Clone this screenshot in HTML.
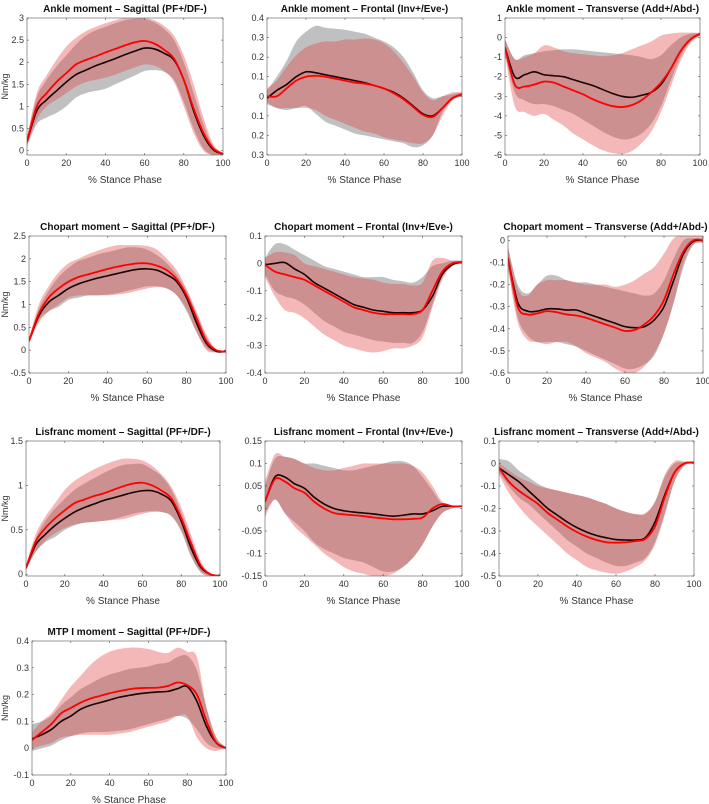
<!DOCTYPE html>
<html><head><meta charset="utf-8">
<style>
html,body{margin:0;padding:0;background:#fff;}
svg{display:block;font-family:"Liberation Sans",sans-serif;}
.t{font-weight:bold;font-size:10px;fill:#111;}
.tk{font-size:9px;fill:#333;}
.xl{font-size:10px;fill:#333;}
</style></head>
<body>
<svg id="fig" width="709" height="804" viewBox="0 0 709 804"></svg>
<script>
const xs=[0,5,10,15,20,25,30,35,40,45,50,55,60,65,70,75,80,85,90,95,100];
const titles=["Ankle moment – Sagittal (PF+/DF-)","Ankle moment – Frontal (Inv+/Eve-)","Ankle moment – Transverse (Add+/Abd-)","Chopart moment – Sagittal (PF+/DF-)","Chopart moment – Frontal (Inv+/Eve-)","Chopart moment – Transverse (Add+/Abd-)","Lisfranc moment – Sagittal (PF+/DF-)","Lisfranc moment – Frontal (Inv+/Eve-)","Lisfranc moment – Transverse (Add+/Abd-)","MTP I moment – Sagittal (PF+/DF-)"];
const blackMean=[
[0.2,0.9,1.15,1.35,1.55,1.72,1.82,1.92,2.0,2.08,2.17,2.25,2.32,2.3,2.2,2.05,1.6,0.9,0.35,0.02,-0.08],
[-0.01,0.03,0.06,0.1,0.125,0.12,0.11,0.1,0.09,0.08,0.07,0.055,0.04,0.02,-0.01,-0.05,-0.09,-0.1,-0.06,-0.01,0.01],
[-0.5,-2.0,-1.9,-1.75,-1.9,-1.95,-2.0,-2.15,-2.3,-2.45,-2.65,-2.85,-3.0,-3.05,-2.95,-2.8,-2.4,-1.6,-0.7,-0.1,0.2],
[0.2,0.75,1.05,1.2,1.35,1.45,1.52,1.58,1.63,1.68,1.73,1.77,1.78,1.75,1.65,1.5,1.15,0.6,0.15,-0.02,-0.03],
[-0.005,0.0,0.003,-0.02,-0.04,-0.07,-0.09,-0.11,-0.13,-0.15,-0.16,-0.17,-0.175,-0.18,-0.18,-0.18,-0.17,-0.12,-0.04,-0.005,0.005],
[-0.08,-0.28,-0.32,-0.32,-0.31,-0.31,-0.315,-0.315,-0.33,-0.345,-0.36,-0.375,-0.39,-0.395,-0.39,-0.36,-0.3,-0.18,-0.06,-0.005,0.0],
[0.07,0.33,0.45,0.55,0.63,0.7,0.75,0.79,0.83,0.86,0.89,0.92,0.94,0.94,0.9,0.82,0.6,0.3,0.08,0.0,-0.02],
[0.015,0.07,0.07,0.055,0.045,0.025,0.01,0.0,-0.005,-0.008,-0.01,-0.012,-0.015,-0.017,-0.015,-0.012,-0.012,-0.005,0.005,0.005,0.005],
[-0.02,-0.05,-0.08,-0.12,-0.16,-0.2,-0.23,-0.26,-0.285,-0.305,-0.32,-0.33,-0.338,-0.34,-0.34,-0.33,-0.26,-0.14,-0.04,0.0,0.005],
[0.035,0.05,0.07,0.1,0.12,0.145,0.16,0.17,0.18,0.19,0.197,0.203,0.207,0.21,0.212,0.222,0.23,0.175,0.08,0.02,0.0]];
const redMean=[
[0.2,1.0,1.3,1.55,1.75,1.95,2.05,2.13,2.22,2.3,2.38,2.45,2.48,2.42,2.28,2.08,1.6,0.95,0.4,0.05,-0.08],
[0.0,0.0,0.04,0.08,0.1,0.105,0.1,0.09,0.08,0.07,0.065,0.055,0.04,0.015,-0.015,-0.055,-0.095,-0.105,-0.06,-0.01,0.01],
[-0.5,-2.4,-2.5,-2.4,-2.25,-2.3,-2.5,-2.7,-2.9,-3.15,-3.35,-3.5,-3.55,-3.45,-3.2,-2.8,-2.3,-1.6,-0.7,-0.1,0.2],
[0.2,0.8,1.15,1.35,1.5,1.6,1.66,1.72,1.78,1.83,1.87,1.9,1.9,1.85,1.75,1.55,1.2,0.7,0.2,0.0,-0.03],
[-0.005,-0.03,-0.04,-0.05,-0.06,-0.08,-0.1,-0.12,-0.14,-0.16,-0.17,-0.18,-0.185,-0.185,-0.185,-0.185,-0.17,-0.1,-0.03,0.0,0.005],
[-0.08,-0.3,-0.335,-0.33,-0.32,-0.325,-0.335,-0.34,-0.35,-0.365,-0.38,-0.395,-0.41,-0.405,-0.38,-0.34,-0.27,-0.15,-0.05,0.0,0.0],
[0.07,0.37,0.52,0.63,0.72,0.8,0.84,0.88,0.91,0.95,0.99,1.02,1.03,1.0,0.94,0.85,0.63,0.35,0.1,0.0,-0.02],
[0.015,0.065,0.06,0.045,0.035,0.015,0.0,-0.01,-0.013,-0.015,-0.017,-0.02,-0.022,-0.024,-0.024,-0.023,-0.02,0.0,0.01,0.005,0.005],
[-0.02,-0.08,-0.12,-0.15,-0.18,-0.22,-0.25,-0.28,-0.305,-0.325,-0.34,-0.35,-0.352,-0.35,-0.345,-0.335,-0.28,-0.15,-0.04,0.0,0.005],
[0.03,0.06,0.09,0.13,0.15,0.17,0.185,0.195,0.205,0.213,0.22,0.224,0.225,0.226,0.232,0.245,0.235,0.2,0.1,0.02,0.0]];
const grayHi=[
[0.3,1.2,1.6,1.9,2.15,2.4,2.6,2.72,2.8,2.88,2.95,2.98,2.98,2.9,2.75,2.5,2.0,1.3,0.6,0.1,-0.05],
[0.03,0.1,0.18,0.28,0.33,0.36,0.35,0.345,0.34,0.33,0.32,0.3,0.28,0.25,0.2,0.12,0.03,-0.01,0.0,0.01,0.02],
[-0.1,-1.1,-0.9,-0.8,-0.7,-0.65,-0.6,-0.6,-0.65,-0.7,-0.75,-0.8,-0.85,-0.9,-1.0,-1.1,-0.9,-0.4,0.0,0.2,0.2],
[0.25,0.9,1.3,1.6,1.8,1.95,2.02,2.1,2.15,2.2,2.25,2.25,2.2,2.08,1.9,1.65,1.3,0.8,0.3,0.0,-0.03],
[0.02,0.07,0.07,0.05,0.03,0.01,-0.01,-0.02,-0.03,-0.04,-0.05,-0.05,-0.05,-0.06,-0.065,-0.07,-0.05,-0.01,0.0,0.01,0.01],
[-0.03,-0.2,-0.24,-0.2,-0.16,-0.16,-0.18,-0.19,-0.19,-0.2,-0.21,-0.22,-0.23,-0.24,-0.25,-0.24,-0.18,-0.08,0.0,0.01,0.01],
[0.1,0.4,0.6,0.74,0.85,0.95,1.02,1.08,1.14,1.19,1.23,1.24,1.24,1.18,1.1,0.95,0.7,0.4,0.12,0.01,-0.01],
[0.05,0.11,0.115,0.11,0.1,0.1,0.095,0.09,0.085,0.085,0.09,0.095,0.1,0.105,0.105,0.095,0.07,0.04,0.01,0.005,0.005],
[0.02,0.01,-0.03,-0.06,-0.09,-0.11,-0.12,-0.13,-0.14,-0.15,-0.165,-0.18,-0.2,-0.215,-0.225,-0.225,-0.17,-0.06,0.0,0.005,0.005],
[0.09,0.1,0.12,0.16,0.19,0.22,0.24,0.26,0.275,0.285,0.295,0.3,0.305,0.315,0.32,0.34,0.345,0.29,0.15,0.04,0.005]];
const grayLo=[
[0.1,0.6,0.75,0.85,1.0,1.2,1.3,1.35,1.4,1.5,1.6,1.7,1.8,1.82,1.78,1.6,1.1,0.5,0.05,-0.1,-0.1],
[-0.04,-0.06,-0.07,-0.06,-0.05,-0.09,-0.13,-0.15,-0.17,-0.19,-0.2,-0.21,-0.22,-0.23,-0.24,-0.26,-0.25,-0.2,-0.08,-0.02,0.0],
[-0.8,-2.8,-3.2,-3.4,-3.4,-3.5,-3.7,-3.9,-4.2,-4.5,-4.8,-5.05,-5.2,-5.15,-4.9,-4.4,-3.5,-2.2,-1.0,-0.2,0.1],
[0.15,0.65,0.85,0.95,1.1,1.15,1.2,1.2,1.22,1.25,1.3,1.35,1.4,1.4,1.35,1.2,0.85,0.4,0.05,-0.05,-0.05],
[-0.04,-0.1,-0.12,-0.13,-0.15,-0.18,-0.21,-0.23,-0.25,-0.26,-0.27,-0.28,-0.285,-0.29,-0.29,-0.29,-0.25,-0.15,-0.05,-0.01,0.0],
[-0.12,-0.35,-0.43,-0.46,-0.46,-0.46,-0.47,-0.48,-0.5,-0.52,-0.54,-0.56,-0.58,-0.58,-0.56,-0.52,-0.42,-0.28,-0.12,-0.02,-0.01],
[0.05,0.25,0.36,0.42,0.5,0.55,0.58,0.59,0.6,0.62,0.65,0.68,0.7,0.71,0.7,0.65,0.48,0.2,0.03,-0.02,-0.02],
[-0.01,0.02,-0.01,-0.03,-0.05,-0.075,-0.09,-0.1,-0.11,-0.115,-0.12,-0.13,-0.14,-0.14,-0.13,-0.11,-0.08,-0.04,-0.01,0.0,0.005],
[-0.04,-0.1,-0.15,-0.18,-0.22,-0.26,-0.3,-0.34,-0.37,-0.4,-0.42,-0.44,-0.455,-0.455,-0.44,-0.42,-0.35,-0.22,-0.08,-0.01,0.0],
[-0.01,0.0,0.01,0.03,0.045,0.055,0.06,0.06,0.062,0.065,0.07,0.08,0.09,0.1,0.11,0.12,0.11,0.07,0.02,0.0,0.0]];
const redHi=[
[0.3,1.3,1.7,2.05,2.35,2.55,2.7,2.8,2.88,2.95,3.0,3.0,3.0,2.95,2.82,2.6,2.15,1.5,0.75,0.15,-0.05],
[0.04,0.08,0.15,0.21,0.25,0.27,0.28,0.28,0.29,0.29,0.295,0.29,0.27,0.23,0.17,0.1,0.02,-0.02,0.0,0.02,0.02],
[-0.1,-1.1,-1.0,-0.8,-0.4,-0.5,-0.7,-0.8,-0.85,-0.9,-0.95,-0.9,-0.8,-0.6,-0.4,-0.2,0.1,0.2,0.25,0.25,0.25],
[0.25,1.0,1.4,1.7,1.9,2.0,2.1,2.18,2.25,2.3,2.3,2.3,2.28,2.2,2.0,1.75,1.35,0.85,0.35,0.02,-0.03],
[0.02,0.04,0.04,0.03,0.0,-0.01,-0.02,-0.03,-0.04,-0.05,-0.055,-0.06,-0.07,-0.075,-0.075,-0.08,-0.07,0.01,0.02,0.01,0.01],
[-0.03,-0.22,-0.25,-0.2,-0.18,-0.18,-0.18,-0.19,-0.2,-0.2,-0.2,-0.21,-0.2,-0.18,-0.15,-0.12,-0.06,0.01,0.02,0.02,0.02],
[0.1,0.45,0.65,0.8,0.95,1.05,1.12,1.18,1.23,1.27,1.3,1.3,1.28,1.22,1.12,0.98,0.75,0.45,0.15,0.01,-0.01],
[0.06,0.12,0.115,0.11,0.1,0.09,0.085,0.085,0.09,0.095,0.1,0.1,0.1,0.1,0.1,0.095,0.08,0.05,0.015,0.005,0.005],
[0.0,-0.03,-0.06,-0.08,-0.1,-0.11,-0.12,-0.13,-0.14,-0.15,-0.165,-0.18,-0.2,-0.215,-0.225,-0.22,-0.17,-0.05,0.01,0.01,0.005],
[0.06,0.1,0.13,0.18,0.23,0.27,0.31,0.34,0.36,0.37,0.375,0.375,0.37,0.36,0.355,0.375,0.36,0.34,0.15,0.04,0.005]];
const redLo=[
[0.1,0.7,1.0,1.15,1.3,1.45,1.55,1.6,1.65,1.72,1.8,1.88,1.95,1.92,1.8,1.55,1.0,0.4,0.0,-0.1,-0.1],
[-0.03,-0.06,-0.06,-0.06,-0.06,-0.07,-0.1,-0.12,-0.14,-0.16,-0.18,-0.19,-0.21,-0.22,-0.23,-0.24,-0.24,-0.2,-0.1,-0.02,0.0],
[-0.9,-3.5,-3.8,-4.0,-3.9,-4.2,-4.5,-4.9,-5.2,-5.5,-5.75,-5.9,-5.95,-5.8,-5.4,-4.8,-3.8,-2.5,-1.2,-0.3,0.1],
[0.15,0.6,0.85,1.0,1.15,1.2,1.2,1.2,1.2,1.22,1.25,1.3,1.35,1.38,1.35,1.2,0.9,0.4,0.0,-0.05,-0.05],
[-0.05,-0.12,-0.17,-0.18,-0.2,-0.23,-0.26,-0.28,-0.3,-0.31,-0.32,-0.325,-0.32,-0.31,-0.31,-0.3,-0.27,-0.16,-0.06,-0.01,0.0],
[-0.13,-0.37,-0.45,-0.46,-0.47,-0.46,-0.46,-0.48,-0.51,-0.53,-0.55,-0.58,-0.6,-0.6,-0.57,-0.51,-0.42,-0.28,-0.1,-0.02,-0.01],
[0.05,0.25,0.38,0.46,0.52,0.56,0.58,0.59,0.6,0.61,0.62,0.65,0.68,0.7,0.7,0.66,0.5,0.22,0.02,-0.02,-0.02],
[-0.02,0.02,-0.01,-0.04,-0.06,-0.08,-0.1,-0.115,-0.13,-0.14,-0.145,-0.15,-0.15,-0.145,-0.13,-0.11,-0.08,-0.04,-0.01,0.0,0.005],
[-0.05,-0.13,-0.19,-0.24,-0.28,-0.32,-0.36,-0.4,-0.43,-0.46,-0.475,-0.485,-0.49,-0.48,-0.46,-0.43,-0.36,-0.23,-0.08,-0.01,0.0],
[0.0,0.01,0.02,0.04,0.045,0.05,0.05,0.05,0.05,0.055,0.06,0.07,0.08,0.09,0.1,0.12,0.12,0.04,0.0,-0.01,0.0]];
const yLims=[[-0.1,3],[-0.3,0.4],[-6,1],[-0.5,2.5],[-0.4,0.1],[-0.6,0.02],[-0.02,1.5],[-0.15,0.15],[-0.5,0.1],[-0.1,0.4]];
const yTicks=[[0,0.5,1,1.5,2,2.5,3],[-0.3,-0.2,-0.1,0,0.1,0.2,0.3,0.4],[-6,-5,-4,-3,-2,-1,0,1],[-0.5,0,0.5,1,1.5,2,2.5],[-0.4,-0.3,-0.2,-0.1,0,0.1],[-0.6,-0.5,-0.4,-0.3,-0.2,-0.1,0],[0,0.5,1,1.5],[-0.15,-0.1,-0.05,0,0.05,0.1,0.15],[-0.5,-0.4,-0.3,-0.2,-0.1,0,0.1],[-0.1,0,0.1,0.2,0.3,0.4]];
const xTicks=[0,20,40,60,80,100];
const boxes=[[27,223,18,155],[267,462,18,155],[505,700,18,155],[29,226,236,373],[265,462,236,373],[508,703,236,373],[26,220,441,576],[265,462,441,576],[499,694,441,576],[32,226,641,775]];
const NS="http://www.w3.org/2000/svg";
const svg=document.getElementById('fig');
function mk(tag,attrs,parent){const e=document.createElementNS(NS,tag);for(const k in attrs)e.setAttribute(k,attrs[k]);(parent||svg).appendChild(e);return e;}
function smooth(pts){let d="M"+pts[0][0].toFixed(2)+","+pts[0][1].toFixed(2);
 for(let i=0;i<pts.length-1;i++){const p0=pts[Math.max(0,i-1)],p1=pts[i],p2=pts[i+1],p3=pts[Math.min(pts.length-1,i+2)];
  const c1=[p1[0]+(p2[0]-p0[0])/6,p1[1]+(p2[1]-p0[1])/6],c2=[p2[0]-(p3[0]-p1[0])/6,p2[1]-(p3[1]-p1[1])/6];
  d+="C"+c1[0].toFixed(2)+","+c1[1].toFixed(2)+" "+c2[0].toFixed(2)+","+c2[1].toFixed(2)+" "+p2[0].toFixed(2)+","+p2[1].toFixed(2);}
 return d;}
function fmt(v,abs){if(Math.abs(v)<1e-9)return "0";let s=String(+v.toFixed(3));if(abs)s=s.replace("-","");return s;}
for(let p=0;p<10;p++){
 const [x0,x1,yt,yb]=boxes[p];const [lo,hi]=yLims[p];
 const X=v=>x0+(v/100)*(x1-x0);
 const Y=v=>yb-(v-lo)/(hi-lo)*(yb-yt);
 const g=mk('g',{});
 
 
 const cid='clip'+p;
 const cp=mk('clipPath',{id:cid},g);mk('rect',{x:x0,y:yt,width:x1-x0,height:yb-yt},cp);
 const title=mk('text',{x:(x0+x1)/2,y:yt-6,'text-anchor':'middle',class:'t'},g);title.textContent=titles[p];
 
 
 const plot=mk('g',{'clip-path':'url(#'+cid+')'},g);
 function band(h,l,fill,op,name){
  const top=xs.map((x,i)=>[X(x),Y(h[i])]);const bot=xs.map((x,i)=>[X(x),Y(l[i])]).reverse();
  const d=smooth(top)+"L"+smooth(bot).slice(1)+"Z";
  const e=mk('path',{d:d,fill:fill,'fill-opacity':op,stroke:'none'},plot);
  
  }
 band(grayHi[p],grayLo[p],'#c0c0c0',1,'gray-sd-band');
 band(redHi[p],redLo[p],'#e03a3a',0.36,'red-sd-band');
 const bl=mk('path',{d:smooth(xs.map((x,i)=>[X(x),Y(blackMean[p][i])])),fill:'none',stroke:'#1a0000',"stroke-width":1.6},plot);
 
 
 const rl=mk('path',{d:smooth(xs.map((x,i)=>[X(x),Y(redMean[p][i])])),fill:'none',stroke:'#ff0000',"stroke-width":1.8},plot);
 
 
 const box=mk('rect',{x:x0,y:yt,width:x1-x0,height:yb-yt,fill:'none',stroke:'#555','stroke-width':0.6},g);
 
 
 yTicks[p].forEach(v=>{const y=Y(v);
  mk('line',{x1:x0,x2:x0+2,y1:y,y2:y,stroke:'#555','stroke-width':0.6},g);
  mk('line',{x1:x1,x2:x1-2,y1:y,y2:y,stroke:'#555','stroke-width':0.6},g);
  const t=mk('text',{x:x0-3,y:y+3,'text-anchor':'end',class:'tk'},g);t.textContent=fmt(v,p===1);
  
  });
 xTicks.forEach(v=>{const x=X(v);
  mk('line',{x1:x,x2:x,y1:yb,y2:yb-2,stroke:'#555','stroke-width':0.6},g);
  mk('line',{x1:x,x2:x,y1:yt,y2:yt+2,stroke:'#555','stroke-width':0.6},g);
  const t=mk('text',{x:x,y:yb+11,'text-anchor':'middle',class:'tk'},g);t.textContent=fmt(v);
  
  });
 const xl=mk('text',{x:(x0+x1)/2,y:yb+28,'text-anchor':'middle',class:'xl'},g);xl.textContent='% Stance Phase';
 
 
 if(p%3===0){const cy=(yt+yb)/2;
  const yl=mk('text',{x:8,y:cy,'text-anchor':'middle',class:'tk',transform:'rotate(-90 8 '+cy+')'},g);yl.textContent='Nm/kg';
  
  }
}
</script>
</body></html>
